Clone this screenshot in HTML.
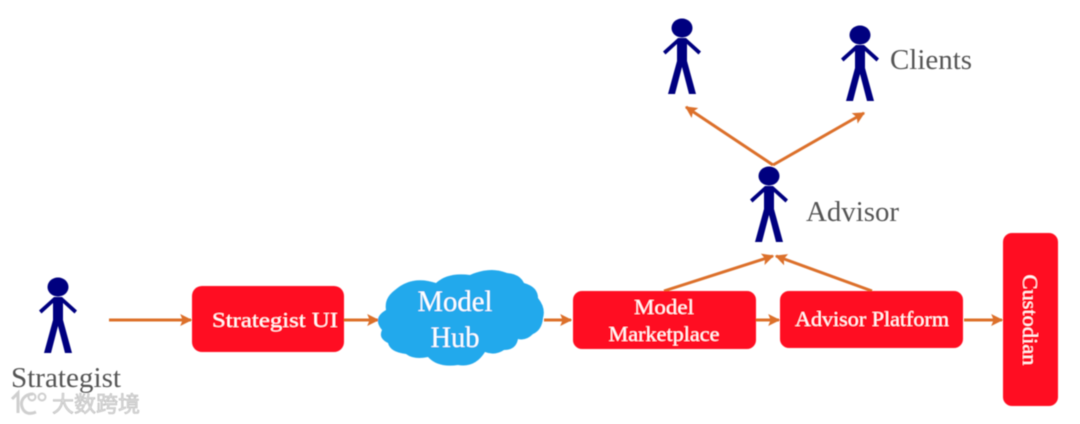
<!DOCTYPE html>
<html><head><meta charset="utf-8"><style>html,body{margin:0;padding:0;background:#fff}svg{display:block}</style></head>
<body>
<svg width="1080" height="424" viewBox="0 0 1080 424" xmlns="http://www.w3.org/2000/svg" font-family="'Liberation Serif','Noto Serif CJK SC',serif">
<defs>
<g id="p">
<ellipse cx="0" cy="0" rx="10.500" ry="9.500" fill="#03067f"/>
<path d="M-4 10H4L19 23.500 16.500 26.500 5 16V33L14 66H7L0 39-7 66H-14L-5 33V16L-16.500 26.500-19 23.500Z" fill="#03067f"/>
</g>
<filter id="b"><feGaussianBlur stdDeviation="0.55"/></filter>
<marker id="a" viewBox="0 0 10 10" refX="9" refY="5" markerWidth="12" markerHeight="12" markerUnits="userSpaceOnUse" orient="auto"><path d="M0 0L10 5 0 10 2 5Z" fill="#dc6f2c"/></marker>
</defs>
<g filter="url(#b)">
<use href="#p" x="58" y="287"/>
<use href="#p" x="682" y="28"/>
<use href="#p" x="860" y="35"/>
<use href="#p" x="769" y="176"/>
<g stroke="#dc6f2c" stroke-width="3" fill="none">
<line x1="109" y1="320" x2="191" y2="320" marker-end="url(#a)"/>
<line x1="344" y1="320" x2="378" y2="320" marker-end="url(#a)"/>
<line x1="544" y1="320" x2="571" y2="320" marker-end="url(#a)"/>
<line x1="756" y1="320" x2="779" y2="320" marker-end="url(#a)"/>
<line x1="964" y1="320" x2="1002" y2="320" marker-end="url(#a)"/>
<line x1="664" y1="291" x2="773" y2="256" marker-end="url(#a)"/>
<line x1="872" y1="291" x2="776" y2="256" marker-end="url(#a)"/>
<line x1="773" y1="165" x2="686" y2="107" marker-end="url(#a)"/>
<line x1="773" y1="165" x2="864" y2="113" marker-end="url(#a)"/>
</g>
<rect x="192" y="286" width="152" height="66" rx="10" fill="#ff1022"/>
<rect x="573" y="291" width="183" height="58" rx="9" fill="#ff1022"/>
<rect x="780" y="291" width="183" height="57" rx="9" fill="#ff1022"/>
<rect x="1003" y="233" width="55" height="173" rx="9" fill="#ff1022"/>
<path d="M395 290Q412 275 436 283Q448 272 470 275Q490 266 507 273Q520 274 524 283Q538 287 538 298Q546 308 543 318Q542 330 533 334Q526 341 518 339Q516 350 504 350Q495 356 485 352Q475 368 458 365Q438 368 428 357Q414 360 406 354Q390 352 388 343Q378 338 382 330Q372 318 386 310Q384 298 395 290Z" fill="#23a9ec"/>
<g fill="#fff" text-anchor="middle">
<text x="275" y="327" font-size="21" textLength="126" lengthAdjust="spacingAndGlyphs">Strategist UI</text>
<text x="664" y="314" font-size="21" textLength="60" lengthAdjust="spacingAndGlyphs">Model</text>
<text x="664" y="341" font-size="21" textLength="111" lengthAdjust="spacingAndGlyphs">Marketplace</text>
<text x="872" y="326" font-size="21" textLength="154" lengthAdjust="spacingAndGlyphs">Advisor Platform</text>
<text x="455" y="311" font-size="29.500" textLength="75" lengthAdjust="spacingAndGlyphs">Model</text>
<text x="455" y="347" font-size="29.500" textLength="49" lengthAdjust="spacingAndGlyphs">Hub</text>
<text transform="translate(1023,320) rotate(90)" font-size="21" textLength="91" lengthAdjust="spacingAndGlyphs">Custodian</text>
</g>
<g fill="#555" font-size="29">
<text x="11" y="387" textLength="110" lengthAdjust="spacingAndGlyphs">Strategist</text>
<text x="890" y="69" textLength="82" lengthAdjust="spacingAndGlyphs">Clients</text>
<text x="806" y="221" textLength="93" lengthAdjust="spacingAndGlyphs">Advisor</text>
</g>
<g fill="none" stroke="#cfcfcf" stroke-width="3">
<path d="M12 399L18 393V413"/>
<path d="M33 394C24 394 20 401 22 407 24 413 29 415 36 412"/>
<circle cx="32" cy="397" r="3.500" stroke-width="2"/>
<circle cx="42" cy="397" r="3.500" stroke-width="2"/>
</g>
<text x="52" y="412" font-family="'Noto Sans CJK SC',sans-serif" font-size="22" fill="#ddd" stroke="#bbb" stroke-width="0.600" textLength="88">大数跨境</text>
</g>
</svg>
</body></html>
